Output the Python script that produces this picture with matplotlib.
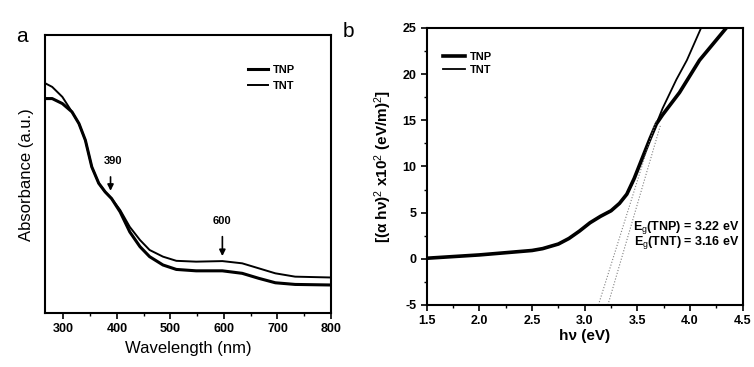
import numpy as np
import matplotlib
matplotlib.use("Agg")
import matplotlib.pyplot as plt

plt.rcParams['font.family'] = ['Liberation Sans', 'DejaVu Sans']
plt.rcParams['mathtext.fontset'] = 'custom'
plt.rcParams['mathtext.rm'] = 'Liberation Sans'
plt.rcParams['mathtext.it'] = 'Liberation Sans'
plt.rcParams['mathtext.bf'] = 'Liberation Sans:bold'
plt.rcParams['axes.unicode_minus'] = False

# panel a: UV-vis absorbance (arbitrary units)
wl_tnt = [267, 279, 298, 316, 329, 341, 353, 366, 378, 390, 406, 424, 443, 461, 486, 511, 548,
          597, 634, 665, 696, 733, 800]
abs_tnt = [0.826, 0.814, 0.778, 0.724, 0.682, 0.622, 0.526, 0.467, 0.436, 0.412, 0.371, 0.310,
           0.263, 0.227, 0.203, 0.188, 0.185, 0.187, 0.179, 0.161, 0.143, 0.131, 0.128]
wl_tnp = [267, 279, 298, 316, 329, 341, 353, 366, 378, 390, 406, 424, 443, 461, 486, 511, 548,
          597, 634, 665, 696, 733, 800]
abs_tnp = [0.772, 0.772, 0.754, 0.724, 0.682, 0.622, 0.526, 0.467, 0.436, 0.412, 0.364, 0.292,
           0.239, 0.203, 0.173, 0.157, 0.152, 0.152, 0.143, 0.125, 0.109, 0.103, 0.101]

# panel b: Tauc plot
ev = [1.5, 2.0, 2.5, 2.6, 2.75, 2.85, 2.95, 3.05, 3.15, 3.25, 3.33, 3.40, 3.47, 3.55, 3.62, 3.68]
tauc_common = [0.06, 0.42, 0.9, 1.1, 1.6, 2.2, 3.0, 3.9, 4.6, 5.2, 6.0, 7.0, 8.7, 11.0, 13.0, 14.6]
ev_tnt = [3.74, 3.87, 3.97, 4.14]
tauc_tnt = [16.3, 19.4, 21.5, 25.9]
ev_tnp = [3.74, 3.90, 4.09, 4.41]
tauc_tnp = [15.6, 18.0, 21.5, 25.9]
fit_tnt_x = [3.13, 3.68]
fit_tnt_y = [-5, 15]
fit_tnp_x = [3.22, 3.72]
fit_tnp_y = [-5, 14.5]

fig = plt.figure(figsize=(7.54, 3.67), dpi=100)

# ---- panel a
ax1 = fig.add_axes([0.060, 0.147, 0.379, 0.757])
ax1.plot(wl_tnp, abs_tnp, color='black', lw=2.2, label='TNP')
ax1.plot(wl_tnt, abs_tnt, color='black', lw=1.4, label='TNT')
ax1.set_xlim(266, 800)
ax1.set_ylim(0, 1)
ax1.set_yticks([])
ax1.set_xticks([300, 400, 500, 600, 700, 800])
ax1.set_xticks(np.arange(300, 800, 50), minor=True)
ax1.tick_params(axis='x', direction='out', length=4, width=1.2, labelsize=9)
ax1.tick_params(axis='x', which='minor', direction='out', length=2, width=1)
for lab in ax1.get_xticklabels():
    lab.set_fontweight('bold')
for s in ax1.spines.values():
    s.set_linewidth(1.5)
ax1.set_xlabel('Wavelength (nm)', fontsize=12, labelpad=4)
ax1.set_ylabel('Absorbance (a.u.)', fontsize=12, labelpad=8)

ax1.annotate('', xy=(388, 0.43), xytext=(388, 0.50),
             arrowprops=dict(arrowstyle='-|>', color='black', lw=1.2, mutation_scale=9))
ax1.text(393, 0.535, '390', fontsize=8, fontweight='bold', ha='center')
ax1.annotate('', xy=(597, 0.195), xytext=(597, 0.285),
             arrowprops=dict(arrowstyle='-|>', color='black', lw=1.2, mutation_scale=9))
ax1.text(597, 0.32, '600', fontsize=8, fontweight='bold', ha='center')

leg1 = ax1.legend(loc='upper right', bbox_to_anchor=(0.91, 0.93), frameon=False,
                  fontsize=8, handlelength=1.8, labelspacing=0.6, handletextpad=0.5)
for t in leg1.get_texts():
    t.set_fontweight('bold')

fig.text(0.022, 0.885, 'a', fontsize=15)

# ---- panel b
ax2 = fig.add_axes([0.566, 0.169, 0.419, 0.755])
ax2.plot(ev + ev_tnp, tauc_common + tauc_tnp, color='black', lw=2.6, label='TNP')
ax2.plot(ev + ev_tnt, tauc_common + tauc_tnt, color='black', lw=1.3, label='TNT')
ax2.plot(fit_tnt_x, fit_tnt_y, color='gray', lw=0.8, ls=':')
ax2.plot(fit_tnp_x, fit_tnp_y, color='gray', lw=0.8, ls=':')
ax2.set_xlim(1.5, 4.5)
ax2.set_ylim(-5, 25)
ax2.set_xticks(np.arange(1.5, 4.51, 0.5))
ax2.set_xticks(np.arange(1.5, 4.5, 0.25), minor=True)
ax2.set_yticks(np.arange(-5, 26, 5))
ax2.set_yticks(np.arange(-5, 25, 2.5), minor=True)
ax2.tick_params(direction='out', length=4, width=1.2, labelsize=9)
ax2.tick_params(which='minor', direction='out', length=2, width=1)
for lab in ax2.get_xticklabels() + ax2.get_yticklabels():
    lab.set_fontweight('bold')
for s in ax2.spines.values():
    s.set_linewidth(1.5)
ax2.set_xlabel('hν (eV)', fontsize=11, fontweight='bold', labelpad=1)
ax2.set_ylabel('[(α hν)$^2$ x10$^2$ (eV/m)$^2$]', fontsize=11, fontweight='bold', labelpad=6)

ax2.text(0.99, 0.28, r'E$_g$(TNP) = 3.22 eV', transform=ax2.transAxes,
         fontsize=9, fontweight='bold', ha='right', va='center')
ax2.text(0.99, 0.224, r'E$_g$(TNT) = 3.16 eV', transform=ax2.transAxes,
         fontsize=9, fontweight='bold', ha='right', va='center')

leg2 = ax2.legend(loc='upper left', bbox_to_anchor=(0.02, 0.95), frameon=False,
                  fontsize=8, handlelength=2.0, labelspacing=0.3, handletextpad=0.4)
for t in leg2.get_texts():
    t.set_fontweight('bold')

fig.text(0.455, 0.9, 'b', fontsize=15)

fig.savefig('out.png', dpi=100)
